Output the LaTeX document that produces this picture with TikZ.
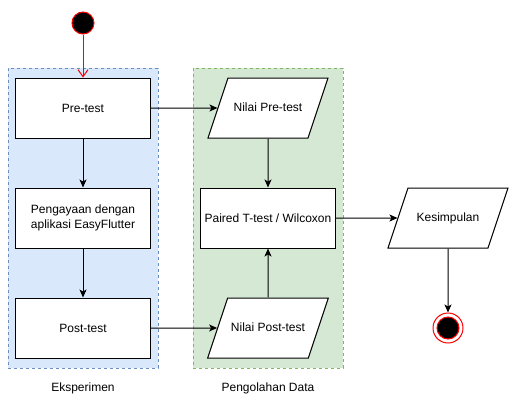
\documentclass[tikz,border=0pt]{standalone}
\usepackage{fontspec}
\setmainfont{Liberation Sans}
\usetikzlibrary{arrows.meta,shapes.geometric}
\definecolor{blueFill}{HTML}{DAE8FC}
\definecolor{blueLine}{HTML}{6C8EBF}
\definecolor{greenFill}{HTML}{D5E8D4}
\definecolor{greenLine}{HTML}{82B366}
\begin{document}
\begin{tikzpicture}[x=1pt, y=-1pt, node distance=110pt, line width=1pt,
    font=\fontsize{12}{14.5}\selectfont,
    procbox/.style={draw, rectangle, fill=white, minimum width=135pt, minimum height=60pt, align=center},
    databox/.style={draw, trapezium, trapezium left angle=71.57, trapezium right angle=108.43,
                    trapezium stretches body, fill=white, text height=9pt, text depth=3pt,
                    inner ysep=24pt, minimum width=120pt},
    lane/.style={rectangle, dashed, minimum width=150pt, minimum height=300pt},
    flow/.style={-{Stealth[length=8pt,width=7pt,inset=2pt]}}]
  \useasboundingbox (0,0) rectangle (517,407);

  % swimlanes
  \node (eksp) [lane, draw=blueLine, fill=blueFill] at (83,218) {};
  \node (olah) [lane, draw=greenLine, fill=greenFill] at (268,218) {};
  \node (ekspLabel) at (83,388) {Eksperimen};
  \node (olahLabel) at (268,388) {Pengolahan Data};

  % experiment
  \node (start) [circle, draw=red, fill=black, minimum size=22pt, inner sep=0pt] at (83,23) {};
  \node (pretest) [procbox] at (83,108) {Pre-test};
  \node (pengayaan) [procbox, below of=pretest] {Pengayaan dengan\\aplikasi EasyFlutter};
  \node (posttest) [procbox, below of=pengayaan] {Post-test};

  % data processing
  \node (nilaipre) [databox] at (268,108) {Nilai Pre-test};
  \node (uji) [procbox, below of=nilaipre] {Paired T-test / Wilcoxon};
  \node (nilaipost) [databox, below of=uji] {Nilai Post-test};

  % conclusion
  \node (kesimpulan) [databox] at (448,218) {Kesimpulan};
  \node (endOuter) [circle, draw=red, fill=white, minimum size=30pt, inner sep=0pt] at (448,328) {};
  \node (endInner) [circle, draw=red, fill=black, minimum size=22pt, inner sep=0pt] at (448,328) {};

  \draw[red, -{Straight Barb[length=7pt,width=10pt]}] (start) -- (pretest);
  \draw[flow] (pretest)    -- (pengayaan);
  \draw[flow] (pengayaan)  -- (posttest);
  \draw[flow] (pretest)    -- (nilaipre);
  \draw[flow] (posttest)   -- (nilaipost);
  \draw[flow] (nilaipre)   -- (uji);
  \draw[flow] (nilaipost)  -- (uji);
  \draw[flow] (uji)        -- (kesimpulan);
  \draw[flow] (kesimpulan) -- (endOuter);
\end{tikzpicture}
\end{document}
